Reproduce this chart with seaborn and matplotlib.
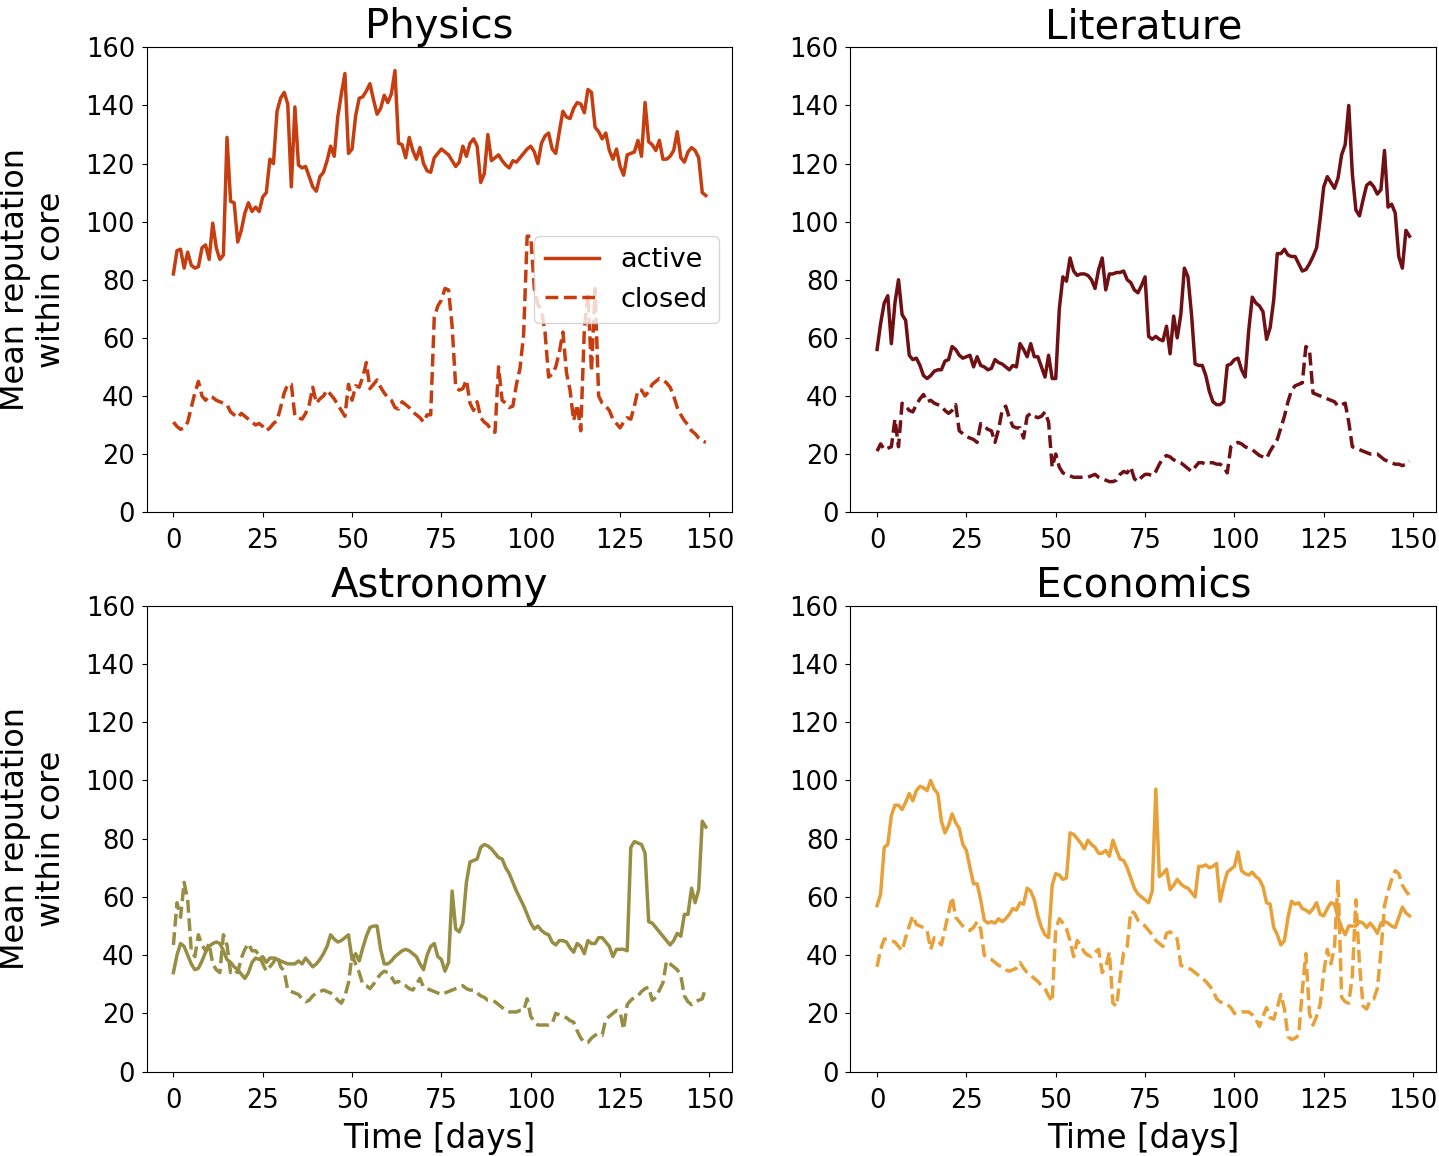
import numpy as np
import pandas as pd
import seaborn as sns
import matplotlib.pyplot as plt

days = np.arange(150)

physics_active = [82, 90, 90.5, 84, 89.5, 85, 84, 84.5, 91, 92, 87, 99.5, 91, 87, 88.5, 129, 107, 106.5, 93, 97,
                  103, 106.5, 103.5, 105, 103.5, 108.5, 110, 121.5, 120, 138, 142.5, 144.5, 140.5, 112, 139.5, 119.5, 118.5, 119, 115.5, 112,
                  110.5, 115.5, 117, 121, 126, 122.5, 136, 144, 151, 123.5, 125, 136.5, 142.5, 143, 145, 147.5, 142, 137, 139, 143.5,
                  141, 144, 152, 127, 126.5, 122, 129, 124.5, 121.5, 125.5, 120, 117.5, 117, 122, 123.5, 125, 124, 123, 121, 119,
                  120.5, 126, 122.5, 127, 128.5, 126, 113.5, 116.5, 130, 121, 122, 123, 121, 119.5, 118.5, 121, 120.5, 122, 123.5, 125,
                  126, 124, 120, 127, 129.5, 130.5, 125, 123.5, 131, 138, 136, 135.5, 139, 141, 140.5, 137.5, 145.5, 144.5, 132.5, 131,
                  128.5, 130.5, 124.5, 121.5, 125, 119, 116, 123, 123.5, 124, 128, 122.5, 141, 127.5, 126.5, 124.5, 128, 121.5, 121.5, 122.5,
                  124.5, 131, 122, 120.5, 124, 125.5, 124.5, 122, 110, 109]
physics_closed = [31, 29.5, 28.5, 29, 31, 36, 41, 45, 40, 38.5, 40, 39.5, 38.5, 38, 37.5, 37, 34.5, 33.5, 32.5, 34,
                  33, 32, 31, 30, 30.5, 29.5, 28, 29, 30.5, 31.5, 36, 41, 44, 44, 33, 32.5, 32, 34, 37, 43,
                  37.5, 39, 40, 42, 40.5, 39, 37, 35, 33, 44, 38.5, 43.5, 43, 46.5, 51.5, 42.5, 44, 45.5, 43, 41,
                  39.5, 38.5, 36, 35.5, 38, 37, 36, 34.5, 33.5, 32.5, 31, 33.5, 33.5, 67, 71, 73, 77, 76.5, 64, 43,
                  42, 42.5, 45.5, 37.5, 35, 38, 32.5, 31, 30, 28, 27.5, 50, 38.5, 37.5, 36, 36.5, 44, 49.5, 61, 95,
                  95, 77, 71.5, 69.5, 62, 46.5, 47.5, 50, 55, 62, 48, 42, 31.5, 37, 28, 63, 75, 48.5, 77, 40,
                  37.5, 36.5, 35, 32, 30.5, 29, 31, 32.5, 32, 36.5, 42, 42, 40, 41.5, 44, 45, 46, 45.5, 44.5, 43,
                  40, 36, 33.5, 31.5, 30, 28, 27, 25.5, 24.5, 24]

literature_active = [56, 65, 72, 74.5, 58, 72, 80, 68, 66, 54, 52.5, 53, 50.5, 47, 46, 47, 48.5, 49, 49, 52,
                     52.5, 57, 56, 54, 53, 53.5, 54, 50, 53.5, 50.5, 50, 49, 49.5, 52.5, 51.5, 51, 50, 49, 50.5, 50,
                     58, 56, 53.5, 58, 53.5, 53.5, 50, 46.5, 54, 46, 46, 70, 81, 79.5, 87.5, 83, 81.5, 82, 82, 81.5,
                     80, 77, 83.5, 87.5, 76.5, 82, 82, 82.5, 82.5, 83, 80, 79, 76.5, 75.5, 78, 81, 60.5, 59.5, 60.5, 59.5,
                     59, 64, 54.5, 67.5, 60, 68, 84, 81, 68, 51, 50.5, 50.5, 47, 41.5, 38, 37, 37, 38, 50.5, 51,
                     52.5, 53, 49, 46.5, 62.5, 74, 72, 71, 69, 59.5, 63.5, 73, 89, 89, 90.5, 88.5, 88, 88, 85.5, 83,
                     83.5, 85.5, 88, 91, 101, 112, 115.5, 113.5, 111.5, 115, 123, 126.5, 140, 116.5, 104, 102, 107.5, 112.5, 113.5, 112,
                     109.5, 111, 124.5, 105, 106, 103, 88, 84, 97, 95]
literature_closed = [21, 23.5, 21.5, 22, 22.5, 32, 22.5, 37.5, 36.5, 35, 34.5, 37, 39, 40.5, 38, 38.5, 37.5, 37, 36.5, 35,
                     34, 35, 37, 28, 27, 26, 25.5, 25, 24, 30.5, 29.5, 28.5, 28, 24, 28.5, 35, 36.5, 32.5, 29.5, 29,
                     29, 25.5, 33, 34, 33, 32.5, 33, 34.5, 31, 15.5, 20, 15.5, 13.5, 13, 12.5, 12, 12, 12, 12, 12,
                     12.5, 13, 12, 11.5, 11, 10.5, 10.5, 11, 13, 14, 13.5, 15.5, 11.5, 10.5, 12, 13, 13, 12.5, 14, 16.5,
                     18.5, 19.5, 19, 18, 17.5, 17, 16, 15, 14, 15.5, 17, 17, 16.5, 17, 17, 16.5, 16.5, 15.5, 13.5, 22.5,
                     23.5, 24, 23.5, 22.5, 22, 21.5, 20.5, 19.5, 19, 18.5, 21, 23, 25, 29, 33, 38, 42, 43.5, 44, 44.5,
                     57, 56, 41, 40.5, 40, 39.5, 39, 38.5, 38, 36.5, 37, 37.5, 31, 22.5, 22, 21.5, 21, 20.5, 20, 20,
                     20, 19, 18, 17.5, 17, 16.5, 16.5, 16, 16.5, 17.5]

astronomy_active = [34, 40, 44, 43, 40, 37, 35, 35.5, 38, 41, 43, 44, 44.5, 44, 41.5, 38.5, 37.5, 36, 35, 33.5,
                    32, 34, 37.5, 39, 38.5, 39.5, 37.5, 39, 39, 38.5, 38, 37.5, 37, 37, 37, 38, 37, 39, 37.5, 36,
                    37, 38.5, 40.5, 43, 47, 45.5, 44.5, 45, 46, 47, 38.5, 40.5, 38, 42.5, 46.5, 49.5, 50, 50, 42, 37,
                    37, 38, 39.5, 40.5, 41.5, 42, 41.5, 40.5, 39.5, 37, 35, 40, 43, 44, 39.5, 38.5, 34.5, 37.5, 62, 49,
                    48, 51, 65, 72, 72.5, 73, 77, 78, 77.5, 76.5, 75, 73.5, 73, 70, 68, 65, 62, 59.5, 57, 54,
                    51, 49, 50, 48.5, 47.5, 47, 44.5, 43.5, 45, 45, 44.5, 42.5, 41, 44, 43, 40.5, 45, 44, 44, 46,
                    46, 44.5, 43, 39.5, 42, 42, 42, 41.5, 77, 79, 78.5, 78, 75, 51.5, 51, 49.5, 48, 46.5, 45, 43.5,
                    45, 47.5, 46.5, 54, 54, 63, 58, 62.5, 86, 84]
astronomy_closed = [43.5, 58, 53, 65, 59, 41.5, 39.5, 47, 43.5, 41.5, 44, 37, 35, 34, 47, 43.5, 34, 35, 34, 39,
                    42, 44, 41.5, 41.5, 40, 37, 34.5, 36, 37.5, 40, 36, 34.5, 28, 27.5, 27, 26.5, 25, 24, 24.5, 26,
                    27, 27.5, 28, 27.5, 27, 26, 24.5, 23.5, 26, 30.5, 40, 37, 34, 30, 29.5, 28.5, 30, 32, 33.5, 34.5,
                    34, 32.5, 30.5, 31, 30, 29.5, 28.5, 28, 30, 32, 29, 28.5, 28, 27.5, 27, 26.5, 27, 27.5, 28, 28.5,
                    29, 29.5, 28.5, 28, 28, 27, 26, 25.5, 24.5, 24.5, 24, 23, 22, 21, 20.5, 20.5, 20.5, 21, 21, 25,
                    19, 17, 16, 16, 16, 16, 16.5, 20, 19.5, 19, 18.5, 17.5, 17, 14, 11.5, 10, 10, 11.5, 12.5, 13,
                    12.5, 18, 19, 20, 21, 20.5, 14.5, 23, 24.5, 25.5, 26, 27.5, 28.5, 29, 24.5, 25.5, 28, 30.5, 38, 37,
                    36, 35, 33, 26, 24, 23, 24, 24.5, 25, 29]

economics_active = [57, 61, 77, 78, 88, 91.5, 91.5, 90, 92.5, 95.5, 93, 96.5, 98, 97.5, 96.5, 100, 97, 95.5, 86, 82,
                    84.5, 88.5, 85.5, 83.5, 78, 76, 70, 64.5, 64.5, 59, 52, 51, 51.5, 51, 52.5, 51.5, 52.5, 54, 56, 55.5,
                    58, 57.5, 63, 62, 59, 53.5, 49.5, 47, 46, 64, 68, 67.5, 66, 66.5, 82, 81.5, 80, 78.5, 76.5, 79.5,
                    78, 77, 75, 75, 76, 74, 79.5, 76, 73, 72.5, 70, 66.5, 63, 61, 60, 59, 58, 62, 97, 67,
                    68, 69.5, 62.5, 64, 66, 64.5, 63.5, 63, 61.5, 60, 70.5, 70.5, 71, 70, 70.5, 71.5, 58.5, 64, 68.5, 69.5,
                    70.5, 75.5, 69, 68, 67.5, 68.5, 67, 66, 63.5, 58, 57.5, 49.5, 47, 43.5, 45, 53, 58.5, 57.5, 58, 56,
                    55.5, 54.5, 56, 58, 54, 53.5, 56, 58, 57.5, 53, 49.5, 47, 50, 50, 50, 51.5, 51, 49.5, 51, 49.5,
                    47.5, 51, 51.5, 51, 50, 49.5, 53, 56.5, 54.5, 53.5]
economics_closed = [36, 42, 45.5, 45.5, 45, 44.5, 43, 41.5, 46, 50, 53.5, 50.5, 50, 49.5, 48.5, 42, 46, 45, 43.5, 49,
                    54.5, 60, 53, 51.5, 50, 49, 48.5, 49.5, 51.5, 49, 40, 39, 38.5, 37.5, 36.5, 36, 35, 34.5, 35, 35.5,
                    37.5, 35.5, 34, 33, 32, 31, 29.5, 28.5, 26, 24, 49, 52.5, 51, 49, 45, 39.5, 45, 43.5, 41, 40,
                    39.5, 41, 42, 34, 36, 41, 23.5, 22.5, 32, 41, 43, 55, 54.5, 52, 51, 50, 48.5, 47, 45, 44,
                    43, 47.5, 48, 47, 45.5, 36.5, 36, 35.5, 35, 34, 33, 32, 31, 29.5, 28, 25, 24, 23.5, 23, 22,
                    20, 20, 20.5, 20.5, 20.5, 19.5, 18, 15.5, 19, 22, 18.5, 18, 22, 26.5, 21.5, 12, 11, 11.5, 12.5, 28,
                    40.5, 20, 16, 19, 23, 34, 42, 37, 42.5, 66, 25.5, 24, 23.5, 33, 59, 37, 22.5, 21.5, 24.5, 25,
                    28.5, 41, 57, 62, 66, 69, 68, 64, 62, 60.5]

fields = ["Physics", "Literature", "Astronomy", "Economics"]
colors = ["#c63d0f", "#6f1015", "#978d43", "#e8a038"]
active = [physics_active, literature_active, astronomy_active, economics_active]
closed = [physics_closed, literature_closed, astronomy_closed, economics_closed]

fig = plt.figure(figsize=(14.39, 11.56), dpi=100)
positions = [[0.102, 0.557, 0.407, 0.402], [0.591, 0.557, 0.407, 0.402],
             [0.102, 0.073, 0.407, 0.403], [0.591, 0.073, 0.407, 0.403]]

for i, field in enumerate(fields):
    ax = fig.add_axes(positions[i])
    df = pd.DataFrame({"day": days, "active": active[i], "closed": closed[i]})
    sns.lineplot(data=df, x="day", y="active", color=colors[i], linewidth=2.5, label="active", ax=ax)
    sns.lineplot(data=df, x="day", y="closed", color=colors[i], linewidth=2.5, linestyle="--", label="closed", ax=ax)
    ax.set_ylim(0, 160)
    ax.set_yticks(range(0, 161, 20))
    ax.set_xticks(range(0, 151, 25))
    ax.tick_params(axis="y", labelsize=18.5, pad=5)
    ax.tick_params(axis="x", labelsize=18.5, pad=8)
    ax.set_title(field, fontsize=29, pad=5)
    if i % 2 == 0:
        ax.set_ylabel("Mean reputation\nwithin core", fontsize=23)
        ax.yaxis.set_label_coords(-0.137, 0.5)
    else:
        ax.set_ylabel("")
    if i >= 2:
        ax.set_xlabel("Time [days]", fontsize=23.5, labelpad=6)
    else:
        ax.set_xlabel("")
    if i == 0:
        ax.legend(loc="center right", fontsize=19.5)
    else:
        ax.get_legend().remove()

plt.savefig("out.png", dpi=100)
